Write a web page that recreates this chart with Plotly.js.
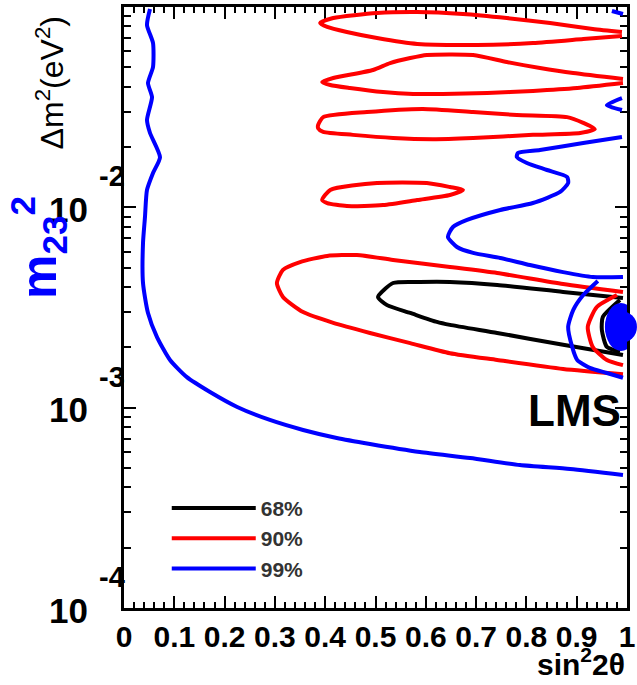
<!DOCTYPE html>
<html>
<head>
<meta charset="utf-8">
<script src="https://cdn.plot.ly/plotly-3.0.1.min.js"></script>
<style>html,body{margin:0;padding:0;background:#fff;}</style>
</head>
<body>
<div id="chart" style="width:637px;height:685px;"></div>
<script>
// ---- 68% CL contour (x = sin^2 2θ, y = Δm² in eV²) ----
const cl68MainX = [0.992, 0.873, 0.742, 0.648, 0.588, 0.535, 0.505, 0.523, 0.569, 0.622, 0.648, 0.742, 0.873, 0.992];
const cl68MainY = [0.00353, 0.00378, 0.00410, 0.00424, 0.00424, 0.00419, 0.00357, 0.00325, 0.00297, 0.00268, 0.00259, 0.00236, 0.00206, 0.00183];
const cl68ArcX = [0.986, 0.952, 0.950, 0.960, 0.986];
const cl68ArcY = [0.00345, 0.00284, 0.00244, 0.00201, 0.00190];

// ---- 90% CL contour ----
const cl90Loop1X = [0.990, 0.932, 0.847, 0.761, 0.674, 0.583, 0.503, 0.416, 0.390, 0.404, 0.443, 0.503, 0.583, 0.702, 0.813, 0.913, 0.990];
const cl90Loop1Y = [0.0750, 0.0777, 0.0832, 0.0881, 0.0923, 0.0944, 0.0933, 0.0881, 0.0832, 0.0795, 0.0750, 0.0700, 0.0654, 0.0646, 0.0661, 0.0692, 0.0717];
const cl90Loop2X = [0.992, 0.893, 0.827, 0.761, 0.694, 0.602, 0.569, 0.529, 0.495, 0.416, 0.394, 0.410, 0.449, 0.515, 0.575, 0.634, 0.722, 0.813, 0.901, 0.992];
const cl90Loop2Y = [0.0437, 0.0468, 0.0496, 0.0531, 0.0576, 0.0576, 0.0556, 0.0525, 0.0485, 0.0442, 0.0422, 0.0408, 0.0394, 0.0376, 0.0368, 0.0368, 0.0372, 0.0381, 0.0394, 0.0417];
const cl90Loop3X = [0.386, 0.396, 0.483, 0.594, 0.694, 0.781, 0.881, 0.913, 0.936, 0.907, 0.813, 0.694, 0.614, 0.535, 0.455, 0.396, 0.386, 0.386];
const cl90Loop3Y = [0.0258, 0.0282, 0.0299, 0.0310, 0.0299, 0.0289, 0.0282, 0.0264, 0.0246, 0.0235, 0.0230, 0.0222, 0.0219, 0.0222, 0.0230, 0.0238, 0.0248, 0.0258];
const cl90Loop4X = [0.394, 0.410, 0.503, 0.602, 0.648, 0.674, 0.648, 0.583, 0.515, 0.443, 0.404, 0.394];
const cl90Loop4Y = [0.01088, 0.01221, 0.01323, 0.01323, 0.01263, 0.01221, 0.01152, 0.01088, 0.01027, 0.01015, 0.01051, 0.01088];
const cl90Loop5X = [0.992, 0.873, 0.742, 0.648, 0.535, 0.463, 0.404, 0.350, 0.316, 0.304, 0.316, 0.356, 0.416, 0.489, 0.569, 0.648, 0.742, 0.873, 0.992];
const cl90Loop5Y = [0.00378, 0.00414, 0.00470, 0.00504, 0.00546, 0.00578, 0.00572, 0.00533, 0.00487, 0.00419, 0.00357, 0.00300, 0.00265, 0.00236, 0.00210, 0.00187, 0.00173, 0.00156, 0.00147];
const cl90ArcX = [0.980, 0.940, 0.922, 0.932, 0.960, 0.992];
const cl90ArcY = [0.00365, 0.00318, 0.00253, 0.00201, 0.00173, 0.00163];

// ---- 99% CL contour ----
const cl99LeftX = [0.0517, 0.0457, 0.0577, 0.0577, 0.0477, 0.0557, 0.0457, 0.0517, 0.0716, 0.0577, 0.0457, 0.0417, 0.0378, 0.0378, 0.0477, 0.0656, 0.0915, 0.125, 0.171, 0.225, 0.290, 0.356, 0.423, 0.489, 0.588, 0.688, 0.787, 0.887, 0.992];
const cl99LeftY = [0.0977, 0.0813, 0.0661, 0.0502, 0.0417, 0.0355, 0.0273, 0.0235, 0.0178, 0.01484, 0.01221, 0.00895, 0.00664, 0.00419, 0.00297, 0.00225, 0.00173, 0.00142, 0.001197, 0.001008, 0.000868, 0.000774, 0.000706, 0.000659, 0.000601, 0.000561, 0.000517, 0.000494, 0.000461];
const cl99UpperX = [0.990, 0.913, 0.827, 0.783, 0.781, 0.801, 0.841, 0.881, 0.883, 0.867, 0.813, 0.748, 0.682, 0.654, 0.644, 0.662, 0.694, 0.748, 0.807, 0.873, 0.932, 0.992];
const cl99UpperY = [0.02245, 0.02095, 0.01933, 0.01867, 0.01783, 0.01664, 0.01536, 0.01417, 0.01323, 0.01193, 0.01051, 0.00970, 0.00865, 0.00798, 0.00711, 0.00634, 0.00592, 0.00559, 0.00515, 0.00475, 0.00449, 0.00449];
const cl99ArcX = [0.942, 0.913, 0.893, 0.883, 0.891, 0.901, 0.926, 0.960, 0.992];
const cl99ArcY = [0.00429, 0.00365, 0.00307, 0.00253, 0.00201, 0.00173, 0.00158, 0.00149, 0.00141];
const cl99HookX = [0.990, 0.960, 0.990];
const cl99HookY = [0.0351, 0.0324, 0.0306];
const cl99TopX = [0.970, 0.992];
const cl99TopY = [0.0955, 0.0923];

// ---- best fit point ----
const bestFitX = [0.988];
const bestFitY = [0.00253];

// ---- labels ----
const levelNames = ['68%', '90%', '99%'];
const levelColors = ['#000000', '#ff0000', '#0000ff'];
const xTickVals = [0, 0.1, 0.2, 0.3, 0.4, 0.5, 0.6, 0.7, 0.8, 0.9, 1];
const xTickText = ['0', '0.1', '0.2', '0.3', '0.4', '0.5', '0.6', '0.7', '0.8', '0.9', '1'];
const yTickExponents = [-4, -3, -2];
const yTickBase = '10';

function joinPieces(pieces) {
  const out = [];
  pieces.forEach((p, i) => { if (i > 0) out.push(null); p.forEach(v => out.push(v)); });
  return out;
}

const LW = 4;
const lineCommon = {type: 'scatter', mode: 'lines', connectgaps: false, hoverinfo: 'skip'};
const bestFitLogY = bestFitY.map(v => Math.log10(v));

const traces = [
  Object.assign({}, lineCommon, {
    name: levelNames[0],
    x: joinPieces([cl68MainX, cl68ArcX]),
    y: joinPieces([cl68MainY, cl68ArcY]),
    line: {color: levelColors[0], width: LW, shape: 'spline', smoothing: 0.6}
  }),
  Object.assign({}, lineCommon, {
    name: levelNames[1],
    x: joinPieces([cl90Loop1X, cl90Loop2X, cl90Loop3X, cl90Loop4X, cl90Loop5X, cl90ArcX]),
    y: joinPieces([cl90Loop1Y, cl90Loop2Y, cl90Loop3Y, cl90Loop4Y, cl90Loop5Y, cl90ArcY]),
    line: {color: levelColors[1], width: LW, shape: 'spline', smoothing: 0.6}
  }),
  Object.assign({}, lineCommon, {
    name: levelNames[2],
    x: joinPieces([cl99LeftX, cl99UpperX, cl99ArcX, cl99HookX, cl99TopX]),
    y: joinPieces([cl99LeftY, cl99UpperY, cl99ArcY, cl99HookY, cl99TopY]),
    line: {color: levelColors[2], width: LW, shape: 'spline', smoothing: 0.6}
  }),
  {
    // best-fit point, drawn on a linear twin axis expressed in log10 units
    type: 'scatter', mode: 'markers', x: bestFitX, y: bestFitLogY, yaxis: 'y2', showlegend: false,
    hoverinfo: 'skip', cliponaxis: false,
    marker: {color: '#0000ff', size: 32, symbol: 'circle', line: {width: 0}}
  }
];

const mainFamily = 'Liberation Sans, Arial, sans-serif';

const annotations = [];
yTickExponents.forEach(e => {
  annotations.push({
    xref: 'paper', yref: 'y', x: -0.068, y: e, xanchor: 'right', yanchor: 'middle',
    yshift: -2, text: yTickBase, showarrow: false,
    font: {family: mainFamily, size: 35, weight: 'bold', color: '#000'}
  });
  annotations.push({
    xref: 'paper', yref: 'y', x: -0.054, y: e, xanchor: 'left', yanchor: 'middle',
    yshift: 31, text: String(e), showarrow: false,
    font: {family: mainFamily, size: 29, weight: 'bold', color: '#000'}
  });
});
annotations.push({
  xref: 'paper', yref: 'paper', x: -0.147, y: 0.873, xanchor: 'center', yanchor: 'middle',
  textangle: -90, text: '\u0394m<sup>2</sup>(eV<sup>2</sup>)', showarrow: false,
  font: {family: mainFamily, size: 32, color: '#000'}
});
annotations.push({
  xref: 'paper', yref: 'paper', x: -0.170, y: 0.60, xanchor: 'center', yanchor: 'middle',
  textangle: -90, text: 'm<sub>23</sub><sup>2</sup>', showarrow: false,
  font: {family: mainFamily, size: 50, weight: 'bold', color: '#0000ff'}
});
annotations.push({
  xref: 'paper', yref: 'paper', x: 0.993, y: 0.329, xanchor: 'right', yanchor: 'middle',
  text: 'LMS', showarrow: false,
  font: {family: mainFamily, size: 44, weight: 'bold', color: '#000'}
});
annotations.push({
  xref: 'paper', yref: 'paper', x: 1.0, y: -0.125, xanchor: 'right', yanchor: 'bottom',
  text: 'sin<sup>2</sup>2\u03b8', showarrow: false,
  font: {family: mainFamily, size: 30, weight: 'bold', color: '#000'}
});

const layout = {
  width: 637, height: 685,
  margin: {l: 124, r: 10, t: 7, b: 77, pad: 0},
  paper_bgcolor: '#fff', plot_bgcolor: '#fff',
  showlegend: true,
  legend: {
    x: 0.085, y: 0.200, xanchor: 'left', yanchor: 'top',
    bgcolor: 'rgba(0,0,0,0)', borderwidth: 0, itemwidth: 84, tracegroupgap: 0,
    font: {family: mainFamily, size: 21, weight: 'bold', color: '#333'}
  },
  xaxis: {
    range: [0, 1], showgrid: false, zeroline: false,
    showline: true, linecolor: '#000', linewidth: 3, mirror: 'ticks',
    ticks: 'inside', ticklen: 12, tickwidth: 2, tickcolor: '#000',
    tickvals: xTickVals, ticktext: xTickText,
    tickfont: {family: mainFamily, size: 30, weight: 'bold', color: '#000'},
    minor: {dtick: 0.02, tick0: 0, ticks: 'inside', ticklen: 6, tickwidth: 2, tickcolor: '#000', showgrid: false},
    layer: 'below traces'
  },
  yaxis: {
    type: 'log', range: [-4, -1], showgrid: false, zeroline: false,
    showline: true, linecolor: '#000', linewidth: 3, mirror: 'ticks',
    ticks: 'inside', ticklen: 12, tickwidth: 2, tickcolor: '#000',
    dtick: 1, showticklabels: false,
    minor: {dtick: 'D1', ticks: 'inside', ticklen: 7, tickwidth: 2, tickcolor: '#000', showgrid: false},
    layer: 'below traces'
  },
  yaxis2: {
    overlaying: 'y', anchor: 'x', type: 'linear', range: [-4, -1], visible: false,
    showgrid: false, zeroline: false, fixedrange: true
  },
  shapes: [{
    type: 'circle', xref: 'x', yref: 'y2', layer: 'above',
    xsizemode: 'pixel', ysizemode: 'pixel',
    xanchor: bestFitX[0], yanchor: bestFitLogY[0],
    x0: -16, x1: 16, y0: -24, y1: 24,
    fillcolor: '#0000ff', line: {width: 0}
  }],
  annotations: annotations
};

Plotly.newPlot('chart', traces, layout, {staticPlot: true, displayModeBar: false});
</script>
</body>
</html>
